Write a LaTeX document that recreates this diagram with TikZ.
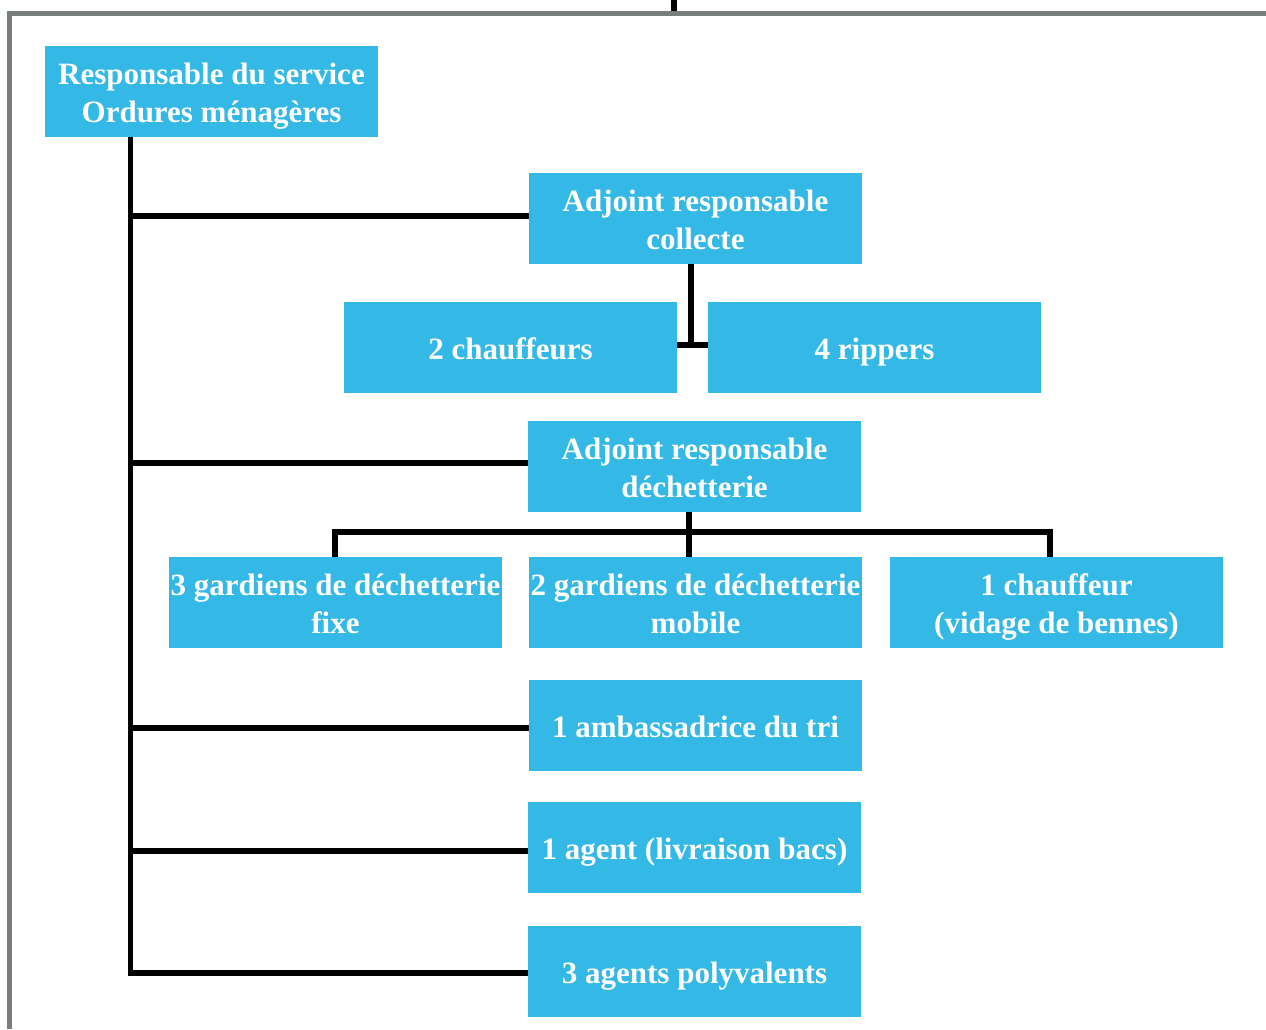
\documentclass[tikz,border=0pt]{standalone}
\usepackage{fontspec}
\setmainfont{Liberation Serif}
\definecolor{boxblue}{RGB}{52,184,230}
\definecolor{framegray}{RGB}{120,126,126}
\begin{document}
\begin{tikzpicture}[x=1pt,y=-1pt,
  box/.style={fill=boxblue,draw=none,minimum width=333pt,minimum height=91pt,inner sep=0pt,
    text=white,align=center,font=\fontsize{31}{38}\selectfont\bfseries},
  one/.style={text height=23pt,text depth=0pt},
  two/.style={text height=61pt,text depth=0pt},
  conn/.style={line width=5.5pt,draw=black},
  frame/.style={line width=5pt,draw=framegray}]
\useasboundingbox (0,0) rectangle (1266,1029);
\fill[white] (0,0) rectangle (1266,1029);
% frame
\draw[frame] (9.5,1029) -- (9.5,13.5) -- (1266,13.5);
\coordinate (topin) at (674,0);
\coordinate (topend) at (674,11);
\draw[conn] (topin) -- (topend);
% nodes
\node[box,two] (R) at (211.5,91.5) {Responsable du service\\Ordures ménagères};
\node[box,two] (A1) at (695.5,218.5) {Adjoint responsable\\collecte};
\node[box,one] (C1) at (510.5,347.5) {2 chauffeurs};
\node[box,one] (C2) at (874.5,347.5) {4 rippers};
\node[box,two] (A2) at (694.5,466.5) {Adjoint responsable\\déchetterie};
\node[box,two] (G1) at (335.5,602.5) {3 gardiens de déchetterie\\fixe};
\node[box,two] (G2) at (695.5,602.5) {2 gardiens de déchetterie\\mobile};
\node[box,two] (G3) at (1056.5,602.5) {1 chauffeur\\(vidage de bennes)};
\node[box,one] (T1) at (695.5,725.5) {1 ambassadrice du tri};
\node[box,one] (T2) at (694.5,847.5) {1 agent (livraison bacs)};
\node[box,one] (T3) at (694.5,971.5) {3 agents polyvalents};
% connectors
\coordinate (trunkend) at (130.5,973);
\draw[conn] (R.south -| trunkend) -- (trunkend) -- ([yshift=-1.5pt]T3.west);
\draw[conn] ([yshift=2.5pt]A1.west -| trunkend) -- ([yshift=2.5pt]A1.west);
\draw[conn] ([yshift=3.5pt]A2.west -| trunkend) -- ([yshift=3.5pt]A2.west);
\draw[conn] ([yshift=-2.5pt]T1.west -| trunkend) -- ([yshift=-2.5pt]T1.west);
\draw[conn] ([yshift=-3.5pt]T2.west -| trunkend) -- ([yshift=-3.5pt]T2.west);
% collecte
\coordinate (cj) at (691,345);
\draw[conn] (A1.south -| cj) -- (cj);
\draw[conn] (C1.east |- cj) -- (C2.west |- cj);
% dechetterie
\coordinate (dj) at (689,532);
\coordinate (dl) at (335,532);
\coordinate (dr) at (1050,532);
\draw[conn] (A2.south -| dj) -- (G2.north -| dj);
\draw[conn] (G1.north -| dl) -- (dl) -- (dr) -- (G3.north -| dr);
\end{tikzpicture}
\end{document}
